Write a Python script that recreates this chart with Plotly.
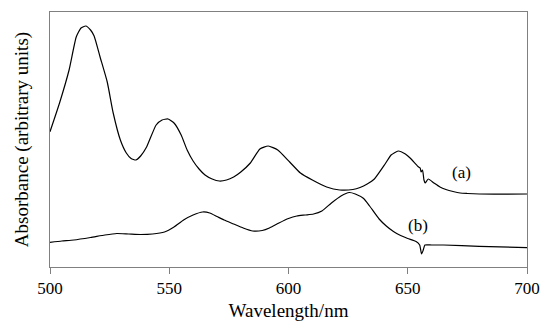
import plotly.graph_objects as go

# Curve (a): wavelength (nm) and absorbance (arbitrary units)
wl_a = [500, 504, 508, 511, 513, 515, 517, 518.5, 521, 524, 526.5, 529.5, 532, 534, 536,
        538, 540.5, 544.5, 547, 549.5, 552, 555, 557.5, 560, 562.5, 565, 568, 571, 574,
        577, 580, 584, 588, 591.5, 595.5, 600.5, 605, 610, 616, 621.5, 627, 630, 633,
        636, 640.5, 643, 646, 649, 651, 654.3, 655.2, 655.6, 656.2, 656.8, 657.3, 658.6,
        661, 663.5, 666, 669, 672, 675, 680, 700]
abs_a = [1.353, 1.64, 1.97, 2.30, 2.39, 2.41, 2.37, 2.31, 2.10, 1.85, 1.54, 1.27, 1.14, 1.085, 1.07,
         1.11, 1.20, 1.42, 1.47, 1.48, 1.44, 1.32, 1.17, 1.06, 0.98, 0.92, 0.88, 0.86, 0.87,
         0.90, 0.95, 1.04, 1.18, 1.21, 1.17, 1.05, 0.94, 0.87, 0.80, 0.77, 0.775, 0.795, 0.83,
         0.88, 1.03, 1.12, 1.16, 1.13, 1.09, 1.005, 0.99, 0.95, 0.97, 0.87, 0.84, 0.88,
         0.84, 0.80, 0.775, 0.755, 0.74, 0.735, 0.73, 0.73]

# Curve (b)
wl_b = [500, 505, 510, 517, 523, 528, 533, 538, 543, 548, 552, 556, 560, 564, 567, 570, 573,
        577, 581, 585, 589, 592, 596, 600, 603.5, 607, 610.5, 614, 618, 622, 625.5, 628,
        631.5, 634, 638, 641, 644, 647, 650, 653.5, 655, 655.8, 656.5, 657.2, 660, 665, 680, 700]
abs_b = [0.247, 0.26, 0.27, 0.295, 0.32, 0.335, 0.33, 0.325, 0.33, 0.35, 0.40, 0.47, 0.52, 0.55,
         0.54, 0.505, 0.47, 0.43, 0.39, 0.36, 0.365, 0.39, 0.44, 0.485, 0.51, 0.52, 0.53, 0.56,
         0.64, 0.71, 0.745, 0.73, 0.685, 0.61, 0.48, 0.41, 0.355, 0.315, 0.285, 0.255, 0.22,
         0.13, 0.17, 0.22, 0.22, 0.22, 0.207, 0.193]

x_ticks = [500, 550, 600, 650, 700]
labels = [("(a)", 672.7, 0.95), ("(b)", 654.5, 0.42)]

FONT = "Liberation Serif"
FS = 17
TFS = 19

fig = go.Figure()
fig.add_trace(go.Scatter(x=wl_a, y=abs_a, mode="lines",
                         line=dict(color="black", width=1.2, shape="spline", smoothing=0.5),
                         showlegend=False))
fig.add_trace(go.Scatter(x=wl_b, y=abs_b, mode="lines",
                         line=dict(color="black", width=1.2, shape="spline", smoothing=0.5),
                         showlegend=False))

for txt, xv, yv in labels:
    fig.add_annotation(x=xv, y=yv, text=txt, showarrow=False,
                       font=dict(family=FONT, size=FS, color="black"))

fig.update_layout(
    width=541, height=323,
    margin=dict(l=50, r=14, t=12, b=56),
    paper_bgcolor="white", plot_bgcolor="white",
    font=dict(family=FONT, size=FS, color="black"),
    xaxis=dict(range=[500, 700], tickvals=x_ticks, ticks="outside", ticklen=6,
               tickcolor="#808080", showline=True, linecolor="#808080", linewidth=1,
               mirror=True, showgrid=False, zeroline=False, automargin=False,
               tickfont=dict(family=FONT, size=FS, color="black"),
               title=dict(text="Wavelength/nm", standoff=6,
                          font=dict(family=FONT, size=TFS, color="black"))),
    yaxis=dict(range=[0, 2.55], showticklabels=False, ticks="", showline=True,
               linecolor="#808080", linewidth=1, mirror=True, showgrid=False, zeroline=False,
               automargin=False,
               title=dict(text="Absorbance (arbitrary units)", standoff=15,
                          font=dict(family=FONT, size=TFS, color="black"))),
)

fig.write_html("out.html", config={"displayModeBar": False},
               post_script="document.body.style.margin='0px';")
